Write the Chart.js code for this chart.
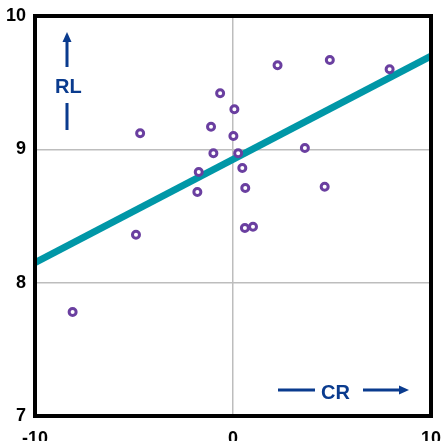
<!DOCTYPE html>
<html>
<head>
<meta charset="utf-8">
<script src="https://cdn.jsdelivr.net/npm/chart.js@4/dist/chart.umd.min.js"></script>
<style>
  html, body { margin: 0; padding: 0; background: #fff; }
  #wrap { position: relative; width: 447px; height: 441px; }
  .axis-label { position: absolute; font-family: "Liberation Sans", Arial, sans-serif; font-weight: bold; font-size: 20px; color: #0a3b8e; line-height: 1; }
</style>
</head>
<body>
<div id="wrap">
  <canvas id="chart" width="447" height="441"></canvas>
  <div class="axis-label" id="rl" style="left:55px; top:76px;">RL</div>
  <div class="axis-label" id="cr" style="left:321px; top:382px;">CR</div>
</div>
<script>
// scatter points (CR, RL)
const crValues = [2.25, 4.89, 7.91, -0.65, 0.07, -1.11, 0.02, -4.69, 3.63, -0.99, 0.26, 0.47, -1.73, -1.80, 0.62, 4.63, 0.60, 1.01, -4.90, -8.10];
const rlValues = [9.63, 9.67, 9.60, 9.42, 9.30, 9.17, 9.10, 9.12, 9.01, 8.97, 8.97, 8.86, 8.83, 8.68, 8.71, 8.72, 8.41, 8.42, 8.36, 7.78];
// regression line ends
const fitX = [-10, 10];
const fitY = [8.15, 9.70];
const xTicks = [-10, 0, 10];
const yTicks = [7, 8, 9, 10];

const TEXT_BLUE = '#0a3b8e';

const boxAndArrows = {
    id: 'boxAndArrows',
    afterDraw(chart) {
        const { ctx, chartArea: a } = chart;
        ctx.save();
        // frame
        ctx.strokeStyle = '#000';
        ctx.lineWidth = 4;
        ctx.strokeRect(a.left, a.top, a.right - a.left, a.bottom - a.top);
        // RL arrow (up) and bar under label
        ctx.strokeStyle = TEXT_BLUE;
        ctx.fillStyle = TEXT_BLUE;
        ctx.lineWidth = 3;
        ctx.beginPath();
        ctx.moveTo(67, 67); ctx.lineTo(67, 40);
        ctx.moveTo(67, 103); ctx.lineTo(67, 130);
        ctx.stroke();
        ctx.beginPath();
        ctx.moveTo(67, 32); ctx.lineTo(62.5, 42); ctx.lineTo(71.5, 42); ctx.closePath();
        ctx.fill();
        // CR arrow (right)
        ctx.beginPath();
        ctx.moveTo(278, 390); ctx.lineTo(315, 390);
        ctx.moveTo(363, 390); ctx.lineTo(401, 390);
        ctx.stroke();
        ctx.beginPath();
        ctx.moveTo(409, 390); ctx.lineTo(399, 385.5); ctx.lineTo(399, 394.5); ctx.closePath();
        ctx.fill();
        ctx.restore();
    }
};

new Chart(document.getElementById('chart'), {
    type: 'scatter',
    data: {
        datasets: [
            {
                label: 'points',
                data: crValues.map((x, i) => ({ x, y: rlValues[i] })),
                pointRadius: 3.5,
                pointBorderWidth: 3,
                pointBackgroundColor: '#fff',
                pointBorderColor: '#6a3fa0',
                order: 1
            },
            {
                label: 'fit',
                type: 'line',
                data: fitX.map((x, i) => ({ x, y: fitY[i] })),
                borderColor: '#0097a7',
                borderWidth: 7,
                pointRadius: 0,
                fill: false,
                order: 2
            }
        ]
    },
    options: {
        responsive: false,
        animation: false,
        layout: { padding: { top: 16, right: 16, left: 0, bottom: 0 } },
        plugins: { legend: { display: false }, tooltip: { enabled: false } },
        scales: {
            x: {
                type: 'linear', min: -10, max: 10,
                afterBuildTicks: s => { s.ticks = xTicks.map(v => ({ value: v })); },
                afterFit: s => { s.height = 25; s.paddingLeft = 0; s.paddingRight = 0; },
                grid: { color: '#bdbdbd', lineWidth: 1.5, drawTicks: false },
                border: { display: false },
                ticks: { color: '#000', padding: 12, maxRotation: 0, font: { family: 'Liberation Sans', weight: 'bold', size: 18 } }
            },
            y: {
                type: 'linear', min: 7, max: 10,
                afterBuildTicks: s => { s.ticks = yTicks.map(v => ({ value: v })); },
                afterFit: s => { s.width = 35; s.paddingTop = 0; s.paddingBottom = 0; },
                grid: { color: '#bdbdbd', lineWidth: 1.5, drawTicks: false },
                border: { display: false },
                ticks: { color: '#000', padding: 9, font: { family: 'Liberation Sans', weight: 'bold', size: 18 } }
            }
        }
    },
    plugins: [boxAndArrows]
});
</script>
</body>
</html>
